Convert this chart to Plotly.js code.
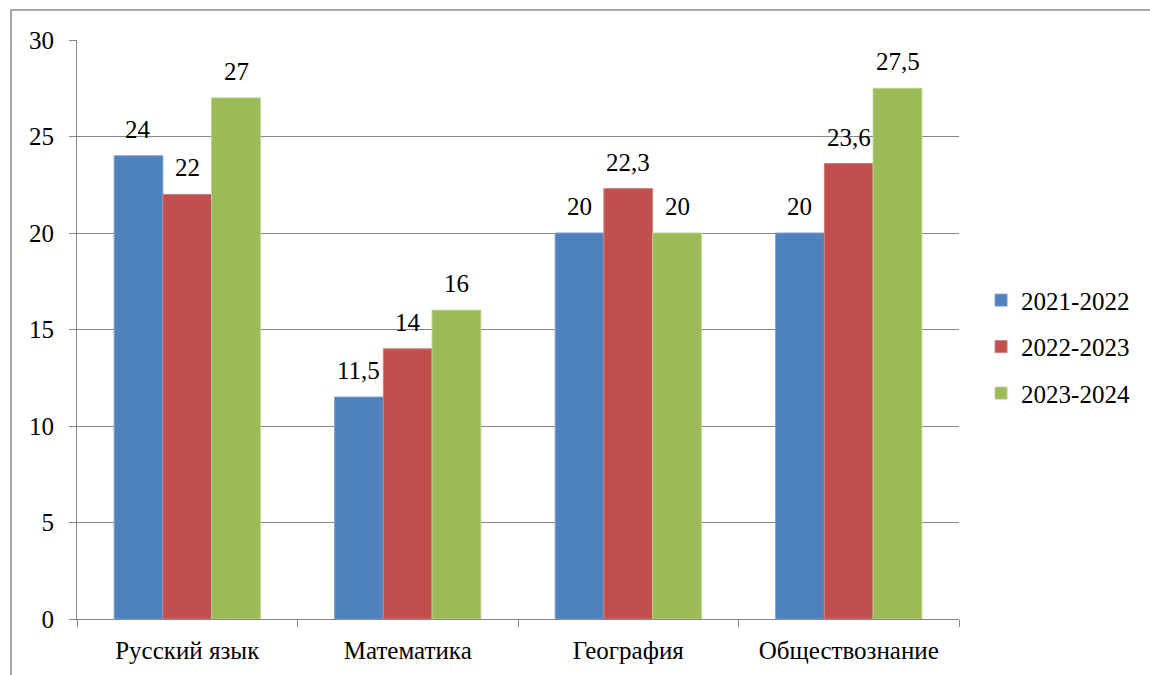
<!DOCTYPE html>
<html><head><meta charset="utf-8">
<script src="https://cdn.plot.ly/plotly-3.0.1.min.js"></script>
<style>
html,body{margin:0;padding:0;background:#fff;font-family:"Liberation Serif"}
#fontprime{position:absolute;left:0;top:0;font-family:"Liberation Serif";font-size:2px;color:transparent;z-index:-1;white-space:nowrap}
</style>
</head><body>
<div id="fontprime" aria-hidden="true">Рус 2021</div>
<div id="chart" style="width:1150px;height:675px"></div>
<script>
const categories = ["Русский язык", "Математика", "География", "Обществознание"];
const seriesNames = ["2021-2022", "2022-2023", "2023-2024"];
const values2021 = [24, 11.5, 20, 20];
const values2022 = [22, 14, 22.3, 23.6];
const values2023 = [27, 16, 20, 27.5];
const yTicks = [0, 5, 10, 15, 20, 25, 30];

const colors = ["#4F81BD", "#C0504D", "#9BBB59"];
const lineColors = ["#7aa0d0", "#d27c7a", "#b8d08a"];
const allValues = [values2021, values2022, values2023];
const fontFam = "Liberation Serif";
const fs = 25;
const labelShift = [-49, 0, 49];

const traces = allValues.map((vals, i) => ({
  type: "bar",
  name: seriesNames[i],
  legendgroup: "g" + i,
  x: categories,
  y: vals,
  marker: {color: colors[i], line: {color: lineColors[i], width: 1}},
  hoverinfo: "skip"
}));

const fmt = v => String(v).replace(".", ",");
const annotations = [];
allValues.forEach((vals, i) => {
  vals.forEach((v, j) => {
    annotations.push({
      x: categories[j], y: v, xref: "x", yref: "y",
      text: fmt(v), showarrow: false,
      xanchor: "center", yanchor: "bottom",
      xshift: labelShift[i], yshift: 11,
      font: {family: fontFam, size: fs, color: "#000"}
    });
  });
});

const layout = {
  width: 1150, height: 675,
  margin: {l: 77, r: 191, t: 40, b: 56},
  paper_bgcolor: "#fff", plot_bgcolor: "#fff",
  barmode: "group",
  bargap: 0.337,
  bargroupgap: 0,
  font: {family: fontFam, size: fs, color: "#000"},
  showlegend: true,
  legend: {x: 1.025, xanchor: "left", y: 0.47, yanchor: "middle",
           font: {family: fontFam, size: fs, color: "#000"},
           traceorder: "grouped", tracegroupgap: 11},
  xaxis: {
    type: "category",
    showgrid: false,
    showline: true, linecolor: "#868686", linewidth: 1,
    ticks: "outside", tickson: "boundaries", ticklen: 7, tickcolor: "#868686",
    tickfont: {family: fontFam, size: fs, color: "#000"},
    ticklabelstandoff: 9,
    fixedrange: true
  },
  yaxis: {
    range: [0, 30],
    tickvals: yTicks,
    ticktext: yTicks.map(String),
    showgrid: true, gridcolor: "#868686", gridwidth: 1,
    showline: true, linecolor: "#868686", linewidth: 1,
    ticks: "outside", ticklen: 7, tickcolor: "#868686",
    tickfont: {family: fontFam, size: fs, color: "#000"},
    ticklabelstandoff: 10,
    zeroline: false,
    fixedrange: true
  },
  annotations: annotations,
  shapes: [{
    type: "rect", xref: "paper", yref: "paper",
    x0: (11 - 77) / 882, x1: 1.4,
    y0: -0.3, y1: (619 - 10) / 579,
    line: {color: "#8c8c8c", width: 1.5}, fillcolor: "rgba(0,0,0,0)", layer: "below"
  }]
};

function draw() {
  Plotly.newPlot("chart", traces, layout, {displayModeBar: false});
}
if (document.fonts && document.fonts.load) {
  document.fonts.load(fs + 'px "' + fontFam + '"', "Русский 2021").then(draw, draw);
} else {
  draw();
}
</script>
</body></html>
